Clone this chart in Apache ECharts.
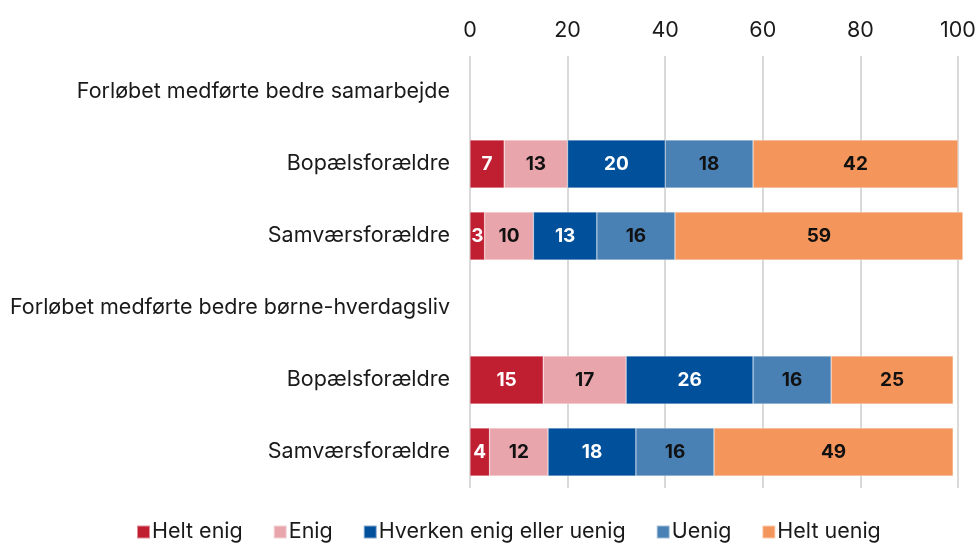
<!DOCTYPE html>
<html>
<head>
<meta charset="utf-8">
<script src="https://cdn.jsdelivr.net/npm/echarts@6/dist/echarts.min.js"></script>
<style>
  html, body { margin: 0; padding: 0; background: #fff; }
  #chart { width: 979px; height: 548px; }
</style>
</head>
<body>
<div id="chart"></div>
<script>
// rows top to bottom, header rows carry no bars
var categories = [
  'Forløbet medførte bedre samarbejde',
  'Bopælsforældre',
  'Samværsforældre',
  'Forløbet medførte bedre børne-hverdagsliv',
  'Bopælsforældre ',
  'Samværsforældre '
]
var seriesNames = ['Helt enig', 'Enig', 'Hverken enig eller uenig', 'Uenig', 'Helt uenig']
var heltEnig   = [null, 7, 3, null, 15, 4]
var enig       = [null, 13, 10, null, 17, 12]
var hverken    = [null, 20, 13, null, 26, 18]
var uenig      = [null, 18, 16, null, 16, 16]
var heltUenig  = [null, 42, 59, null, 25, 49]
var xTicks = [0, 20, 40, 60, 80, 100]

var colors = ['#c01f32', '#e8a6ac', '#00509b', '#4a81b4', '#f4955c']
var labelColors = ['#fff', '#111', '#fff', '#111', '#111']
var values = [heltEnig, enig, hverken, uenig, heltUenig]

var chart = echarts.init(document.getElementById('chart'))
var font = 'Inter, "Noto Sans", sans-serif'

chart.setOption({
  animation: false,
  textStyle: { fontFamily: font },
  grid: { left: 470, right: 21, top: 56, bottom: 60 },
  legend: {
    data: seriesNames,
    bottom: 0,
    left: 131,
    icon: 'rect',
    itemWidth: 13,
    itemHeight: 13,
    itemGap: 30,
    textStyle: { fontSize: 21.5, color: '#1a1a1a', fontFamily: font, padding: [0, 0, 0, -3] }
  },
  xAxis: {
    type: 'value',
    position: 'top',
    min: xTicks[0],
    max: xTicks[xTicks.length - 1],
    interval: 20,
    axisLine: { show: false },
    axisTick: { show: false },
    axisLabel: { fontSize: 21.5, color: '#1a1a1a', margin: 14, fontFamily: font },
    splitLine: { lineStyle: { color: '#d9d9d9', width: 2 } }
  },
  yAxis: {
    type: 'category',
    inverse: true,
    data: categories,
    axisLine: { show: false },
    axisTick: { show: false },
    axisLabel: {
      fontSize: 21.5, color: '#1a1a1a', margin: 20, fontFamily: font,
      formatter: function (v) { return v.trim() }
    }
  },
  series: seriesNames.map(function (name, i) {
    return {
      name: name,
      type: 'bar',
      stack: 'total',
      barWidth: 48,
      clip: false,
      data: values[i],
      itemStyle: { color: colors[i], borderColor: 'rgba(255,255,255,0.5)', borderWidth: 0.5 },
      label: {
        show: true,
        position: 'inside',
        color: labelColors[i],
        fontSize: 19,
        fontWeight: 'bold',
        fontFamily: font
      }
    }
  })
})
</script>
</body>
</html>
